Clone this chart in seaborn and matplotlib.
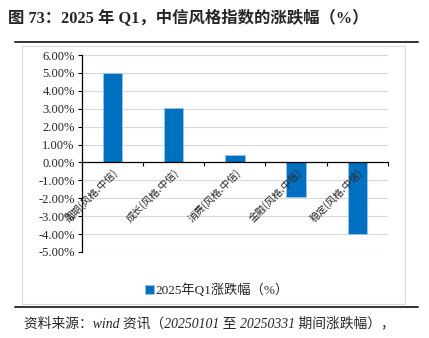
import matplotlib
matplotlib.use("Agg")
import matplotlib.pyplot as plt
from matplotlib.patches import Patch, Rectangle
from matplotlib.lines import Line2D
from matplotlib.ticker import FuncFormatter, MultipleLocator
import seaborn as sns
import pandas as pd

# Style index returns for 2025 Q1 (%)
categories = ["周期(风格.中信)", "成长(风格.中信)", "消费(风格.中信)", "金融(风格.中信)", "稳定(风格.中信)"]
returns = [5.02, 3.04, 0.40, -1.92, -3.98]
series_name = "2025年Q1涨跌幅（%）"
title = "图 73：2025 年 Q1，中信风格指数的涨跌幅（%）"
source = "资料来源：wind 资讯（20250101 至 20250331 期间涨跌幅），"

sns.set_theme(style="white")
serif_cjk = ["Liberation Serif", "Noto Sans CJK SC"]
plt.rcParams["font.family"] = ["Noto Sans CJK SC", "DejaVu Sans"]

df = pd.DataFrame({"style": categories, "ret": returns})
bar_color = "#0070C0"

fig = plt.figure(figsize=(4.29, 3.38), dpi=100)
W, H = 429, 338

# chart frame
fig.patches.append(Rectangle((22 / W, 1 - 304 / H), 383 / W, 258 / H,
                             transform=fig.transFigure, fill=False,
                             edgecolor="#D9D9D9", linewidth=0.8))
# rules under title and above source
for yy in (42, 307):
    fig.lines.append(Line2D([15 / W, 418 / W], [1 - yy / H, 1 - yy / H],
                            transform=fig.transFigure, color="#333333", linewidth=1.4))

ax = fig.add_axes([81.7 / W, 1 - 252 / H, (388 - 81.7) / W, (252 - 55) / H])
sns.barplot(data=df, x="style", y="ret", color=bar_color, width=0.32,
            edgecolor="#9DC3E6", linewidth=0.6, saturation=1, ax=ax)
for p in ax.patches:
    p.set_zorder(1)

ax.set_ylim(-5, 6)
ax.set_xlim(-0.5, len(categories) - 0.5)
ax.yaxis.set_major_locator(MultipleLocator(1))
ax.yaxis.set_major_formatter(FuncFormatter(lambda v, p: f"{v:.2f}%"))
# gridlines under the bars, axis (and its labels) above them
for v in range(-5, 7):
    if v != 0:
        ax.axhline(v, color="#D9D9D9", linewidth=0.8, zorder=0.3)
ax.set_axisbelow(False)
ax.set_xlabel("")
ax.set_ylabel("")

for s in ("top", "right"):
    ax.spines[s].set_visible(False)
ax.spines["left"].set_color("black")
ax.spines["left"].set_linewidth(0.9)
ax.spines["bottom"].set_position(("data", 0))
ax.spines["bottom"].set_color("black")
ax.spines["bottom"].set_linewidth(0.9)

ax.tick_params(axis="y", left=True, direction="out", length=3, width=0.8,
               color="black", pad=2, labelsize=9)
for lbl in ax.get_yticklabels():
    lbl.set_fontfamily(serif_cjk)

ax.set_xticks(range(len(categories)))
ax.set_xticklabels(categories, rotation=45, ha="right", rotation_mode="anchor",
                   fontsize=7.2)
ax.tick_params(axis="x", which="major", bottom=False, length=0, pad=3)
ax.set_xticks([i - 0.5 for i in range(len(categories) + 1)], minor=True)
ax.tick_params(axis="x", which="minor", bottom=True, direction="out",
               length=3, width=0.8, color="black")

fig.text(8 / W, 1 - 19 / H, title, fontsize=11.8, fontweight="bold",
         family=serif_cjk, ha="left", va="center")

handle = Patch(facecolor=bar_color, edgecolor="#9DC3E6", linewidth=0.5)
fig.legend([handle], [series_name], loc="center", bbox_to_anchor=(217 / W, 1 - 290 / H),
           frameon=False, handlelength=0.7, handleheight=0.7, handletextpad=0.1,
           prop={"family": serif_cjk, "size": 9.5})

fig.text(24 / W, 1 - 323 / H, source, fontsize=9.9, style="italic",
         family=serif_cjk, ha="left", va="center")

fig.savefig("out.png", dpi=100)
